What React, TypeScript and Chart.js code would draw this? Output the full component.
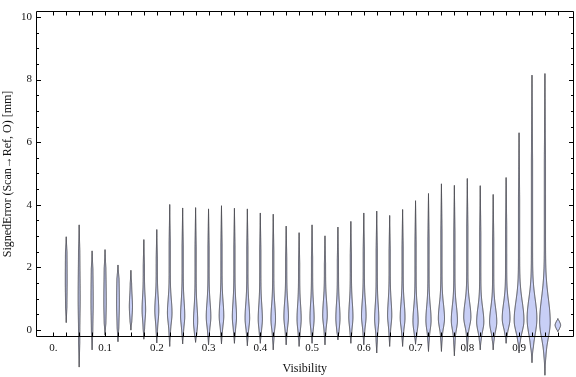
import React, { useEffect, useRef } from "react";
import { Chart, registerables } from "chart.js";

Chart.register(...registerables);

// Category positions (Visibility bins)
const visibility = [
  0.025, 0.05, 0.075, 0.1, 0.125, 0.15, 0.175, 0.2, 0.225, 0.25,
  0.275, 0.3, 0.325, 0.35, 0.375, 0.4, 0.425, 0.45, 0.475, 0.5,
  0.525, 0.55, 0.575, 0.6, 0.625, 0.65, 0.675, 0.7, 0.725, 0.75,
  0.775, 0.8, 0.825, 0.85, 0.875, 0.9, 0.925, 0.95, 0.975,
];

// Upper extent of each distribution [mm]
const maxError = [
  2.98, 3.36, 2.53, 2.57, 2.08, 1.91, 2.89, 3.21, 4.01, 3.9,
  3.91, 3.87, 3.97, 3.89, 3.87, 3.74, 3.7, 3.32, 3.11, 3.36,
  3.01, 3.29, 3.47, 3.74, 3.8, 3.66, 3.85, 4.13, 4.36, 4.67,
  4.62, 4.84, 4.61, 4.33, 4.87, 6.3, 8.14, 8.19, 0.37,
];

// Lower extent of each distribution [mm]
const minError = [
  0.24, -1.18, -0.63, -0.16, -0.37, 0.0, -0.29, -0.41, -0.52, -0.44,
  -0.39, -0.47, -0.44, -0.42, -0.5, -0.42, -0.63, -0.47, -0.52, -0.42,
  -0.47, -0.31, -0.42, -0.47, -0.73, -0.52, -0.52, -0.45, -0.68, -0.68,
  -0.82, -0.68, -0.63, -0.63, -0.42, -0.73, -1.04, -1.44, -0.05,
];

// Location of the density peak [mm]
const modeError = [
  1.6, 1.0, 0.9, 0.9, 0.85, 0.75, 0.65, 0.62, 0.55, 0.45,
  0.28, 0.42, 0.45, 0.42, 0.38, 0.35, 0.35, 0.42, 0.35, 0.38,
  0.47, 0.38, 0.42, 0.45, 0.35, 0.47, 0.4, 0.28, 0.31, 0.37,
  0.31, 0.42, 0.26, 0.26, 0.37, 0.31, 0.37, 0.26, 0.16,
];

// Peak half-width of the density, in Visibility units
const peakHalfWidth = [
  0.0006, 0.0008, 0.001, 0.0012, 0.0015, 0.0019, 0.0023, 0.0027, 0.0033, 0.0029,
  0.0029, 0.0033, 0.0033, 0.0029, 0.0033, 0.0029, 0.0033, 0.0033, 0.0029, 0.0029,
  0.0033, 0.0029, 0.0029, 0.0033, 0.0029, 0.0029, 0.0035, 0.0039, 0.0039, 0.0048,
  0.0048, 0.0058, 0.0058, 0.0058, 0.0064, 0.0083, 0.0083, 0.0091, 0.0042,
];

// Spread of the density above / below the peak [mm]
const upperSpread = [
  0.8, 0.8, 0.8, 0.8, 0.8, 0.35, 0.4, 0.42, 0.42, 0.45,
  0.45, 0.45, 0.45, 0.45, 0.45, 0.45, 0.45, 0.45, 0.45, 0.45,
  0.45, 0.45, 0.45, 0.45, 0.45, 0.45, 0.45, 0.45, 0.45, 0.45,
  0.45, 0.45, 0.45, 0.45, 0.48, 0.6, 0.62, 0.75, 0.09,
];
const lowerSpread = [
  0.5, 0.5, 0.5, 0.5, 0.5, 0.3, 0.3, 0.3, 0.3, 0.28,
  0.28, 0.28, 0.28, 0.28, 0.28, 0.28, 0.28, 0.28, 0.28, 0.28,
  0.28, 0.28, 0.28, 0.28, 0.28, 0.28, 0.28, 0.28, 0.28, 0.28,
  0.28, 0.28, 0.28, 0.28, 0.28, 0.35, 0.5, 0.5, 0.09,
];

const xTickValues = [0, 0.1, 0.2, 0.3, 0.4, 0.5, 0.6, 0.7, 0.8, 0.9];
const xTickLabels = ["0.", "0.1", "0.2", "0.3", "0.4", "0.5", "0.6", "0.7", "0.8", "0.9"];
const yTickValues = [0, 2, 4, 6, 8, 10];
const yTickLabels = ["0", "2", "4", "6", "8", "10"];
const yMinorStep = 0.5;

const FONT = "'Liberation Serif', 'Times New Roman', serif";
const FILL = "rgb(200,207,246)";
const EDGE = "rgb(62,62,68)";
const TAIL = 0.6;

const violinPlugin = {
  id: "violins",
  afterDatasetsDraw(chart: any) {
    const { ctx, scales } = chart;
    const x = scales.x;
    const y = scales.y;
    ctx.save();
    for (let i = 0; i < visibility.length; i++) {
      const v = visibility[i];
      const cx = x.getPixelForValue(v);
      const wpx = x.getPixelForValue(v + peakHalfWidth[i]) - cx;
      const lo = minError[i];
      const hi = maxError[i];
      const m = modeError[i];
      const rt = Math.max(0.02, 0.35 * (hi - m));
      const rb = Math.max(0.02, 0.35 * (m - lo));
      const lenPx = Math.abs(y.getPixelForValue(lo) - y.getPixelForValue(hi));
      const N = Math.max(60, Math.ceil(lenPx * 3));
      const pts: [number, number][] = [];
      for (let k = 0; k <= N; k++) {
        const yy = lo + ((hi - lo) * k) / N;
        const d = yy - m;
        const s = d > 0 ? upperSpread[i] : lowerSpread[i];
        let w = wpx * Math.exp(-0.5 * (d / s) * (d / s)) + TAIL;
        const r = Math.max(0, Math.min(1, (hi - yy) / rt, (yy - lo) / rb));
        w *= r;
        pts.push([w, y.getPixelForValue(yy)]);
      }
      ctx.beginPath();
      pts.forEach(([w, py], k) => {
        if (k === 0) ctx.moveTo(cx - w, py);
        else ctx.lineTo(cx - w, py);
      });
      for (let k = pts.length - 1; k >= 0; k--) {
        const [w, py] = pts[k];
        ctx.lineTo(cx + w, py);
      }
      ctx.closePath();
      ctx.fillStyle = FILL;
      ctx.fill();
      ctx.lineWidth = 1;
      ctx.strokeStyle = EDGE;
      ctx.lineJoin = "round";
      ctx.stroke();
    }
    ctx.restore();
  },
};

const framePlugin = {
  id: "frame",
  afterDraw(chart: any) {
    const { ctx, chartArea, scales } = chart;
    const x = scales.x;
    const y = scales.y;
    const L = Math.round(chartArea.left) + 0.5;
    const R = Math.round(chartArea.right) - 0.5;
    const T = Math.round(chartArea.top) + 0.5;
    const B = Math.round(chartArea.bottom) - 0.5;
    ctx.save();
    ctx.strokeStyle = "#000";
    ctx.lineWidth = 1;
    ctx.beginPath();
    ctx.rect(L, T, R - L, B - T);
    ctx.stroke();
    ctx.beginPath();
    // x ticks at every category (and the origin)
    const xt = [0, ...visibility];
    xt.forEach((v) => {
      const px = Math.round(x.getPixelForValue(v)) + 0.5;
      ctx.moveTo(px, B);
      ctx.lineTo(px, B - 4);
      ctx.moveTo(px, T);
      ctx.lineTo(px, T + 4);
    });
    // y ticks
    const yMax = yTickValues[yTickValues.length - 1];
    for (let v = yTickValues[0]; v <= yMax + 1e-9; v += yMinorStep) {
      const major = yTickValues.some((t) => Math.abs(t - v) < 1e-9);
      const len = major ? 4.5 : 2.5;
      const py = Math.round(y.getPixelForValue(v)) + 0.5;
      ctx.moveTo(L, py);
      ctx.lineTo(L + len, py);
      ctx.moveTo(R, py);
      ctx.lineTo(R - len, py);
    }
    ctx.stroke();
    ctx.restore();
  },
};

export default function App() {
  const ref = useRef<HTMLCanvasElement | null>(null);
  useEffect(() => {
    document.body.style.margin = "0";
    const canvas = ref.current!;
    const chart = new Chart(canvas, {
      type: "scatter",
      data: { datasets: [] },
      options: {
        responsive: false,
        animation: false,
        devicePixelRatio: 1,
        layout: { padding: { top: 4.7, right: 2.5, left: 0, bottom: 0 } },
        plugins: { legend: { display: false }, tooltip: { enabled: false } },
        scales: {
          x: {
            type: "linear",
            min: -0.0334,
            max: 1.0052,
            grid: { display: false, drawTicks: false },
            border: { display: false },
            afterBuildTicks: (s: any) => {
              s.ticks = xTickValues.map((v) => ({ value: v }));
            },
            afterFit: (s: any) => {
              s.height = 39.7;
            },
            ticks: {
              autoSkip: false,
              maxRotation: 0,
              padding: 4,
              color: "#111",
              font: { family: FONT, size: 11 },
              callback: (_v: any, idx: number) => xTickLabels[idx],
            },
            title: {
              display: true,
              text: "Visibility",
              color: "#111",
              font: { family: FONT, size: 12 },
              padding: { top: 0, bottom: 1 },
            },
          },
          y: {
            type: "linear",
            min: -0.229,
            max: 10.2,
            grid: { display: false, drawTicks: false },
            border: { display: false },
            afterBuildTicks: (s: any) => {
              s.ticks = yTickValues.map((v) => ({ value: v }));
            },
            afterFit: (s: any) => {
              s.width = 36;
            },
            ticks: {
              autoSkip: false,
              padding: 4,
              color: "#111",
              font: { family: FONT, size: 11 },
              callback: (_v: any, idx: number) => yTickLabels[idx],
            },
            title: {
              display: true,
              text: "SignedError (Scan\u2192Ref, O) [mm]",
              color: "#111",
              font: { family: FONT, size: 12 },
              padding: { top: 1, bottom: 0 },
            },
          },
        },
      },
      plugins: [violinPlugin, framePlugin],
    } as any);
    return () => chart.destroy();
  }, []);
  return (
    <div style={{ width: 576, height: 377 }}>
      <canvas ref={ref} width={576} height={377} style={{ display: "block" }} />
    </div>
  );
}
